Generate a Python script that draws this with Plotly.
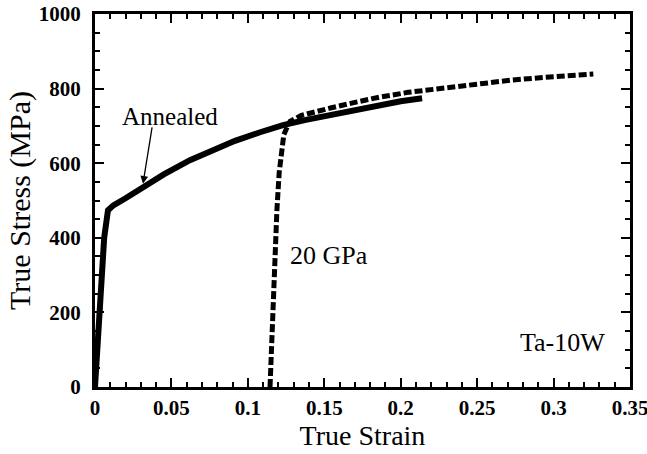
import plotly.graph_objects as go

# ---- data ----
annealed_strain = [0, 0.002, 0.004, 0.006, 0.0085, 0.012, 0.02, 0.0314, 0.045, 0.0621,
                   0.078, 0.0916, 0.108, 0.123, 0.138, 0.154, 0.17, 0.186, 0.2, 0.214]
annealed_stress = [0, 140, 280, 400, 474, 487, 506, 536, 570, 608,
                   638, 660, 683, 702, 716, 729, 743, 756, 766, 774]

gpa_strain = [0.1145, 0.1155, 0.1165, 0.118, 0.119, 0.1205, 0.122, 0.1235, 0.1258, 0.1276,
              0.135, 0.145, 0.154, 0.17, 0.186, 0.205, 0.23, 0.25, 0.273, 0.3, 0.326]
gpa_stress = [0, 120, 250, 370, 474, 575, 640, 676, 698, 712,
              728, 740, 748, 763, 777, 790, 803, 813, 823, 832, 839]

x_tickvals = [0, 0.05, 0.1, 0.15, 0.2, 0.25, 0.3, 0.35]
x_ticktext = ["0", "0.05", "0.1", "0.15", "0.2", "0.25", "0.3", "0.35"]
y_tickvals = [0, 200, 400, 600, 800, 1000]
y_ticktext = ["0", "200", "400", "600", "800", "1000"]

SERIF = "Liberation Serif, Times New Roman, serif"

fig = go.Figure()
fig.add_trace(go.Scatter(x=annealed_strain, y=annealed_stress, mode="lines",
                         line=dict(color="black", width=6), showlegend=False,
                         hoverinfo="skip"))
fig.add_trace(go.Scatter(x=gpa_strain, y=gpa_stress, mode="lines",
                         line=dict(color="black", width=5, dash="8px,3px"),
                         showlegend=False, hoverinfo="skip"))

fig.add_annotation(x=0.0314, y=545, ax=0.0375, ay=700, xref="x", yref="y",
                   axref="x", ayref="y", showarrow=True, arrowhead=2,
                   arrowsize=1.2, arrowwidth=1.3, arrowcolor="black", text="")
fig.add_annotation(x=0.049, y=724, text="Annealed", showarrow=False,
                   font=dict(family=SERIF, size=25, color="black"))
fig.add_annotation(x=0.153, y=352, text="20 GPa", showarrow=False,
                   font=dict(family=SERIF, size=26, color="black"))
fig.add_annotation(x=0.306, y=118, text="Ta-10W", showarrow=False,
                   font=dict(family=SERIF, size=26, color="black"))

axis_common = dict(showline=True, linecolor="black", linewidth=3, mirror="allticks",
                   ticks="inside", ticklen=9, tickwidth=2, tickcolor="black",
                   showgrid=False, zeroline=False, automargin=False,
                   ticklabeloverflow="allow",
                   tickfont=dict(family=SERIF, size=21, color="black", weight="bold"))

fig.update_xaxes(range=[0, 0.35], tickvals=x_tickvals, ticktext=x_ticktext,
                 minor=dict(dtick=0.01, tick0=0, ticks="inside", ticklen=5,
                            tickwidth=2, tickcolor="black"),
                 title=dict(text="True Strain", font=dict(family=SERIF, size=28, color="black"),
                            standoff=3),
                 **axis_common)
fig.update_yaxes(range=[0, 1000], tickvals=y_tickvals, ticktext=y_ticktext,
                 ticklabelstandoff=7,
                 minor=dict(dtick=50, tick0=0, ticks="inside", ticklen=5,
                            tickwidth=2, tickcolor="black"),
                 title=dict(text="True Stress (MPa)", font=dict(family=SERIF, size=30, color="black"),
                            standoff=0),
                 **axis_common)

fig.update_layout(width=647, height=454, paper_bgcolor="white", plot_bgcolor="white",
                  margin=dict(l=95, r=17, t=14, b=67), showlegend=False)

# remove the default page margin so the 647x454 figure fills the window exactly
fig.write_html("out.html", config={"displayModeBar": False},
               post_script="document.body.style.margin='0';document.body.style.overflow='hidden';")
